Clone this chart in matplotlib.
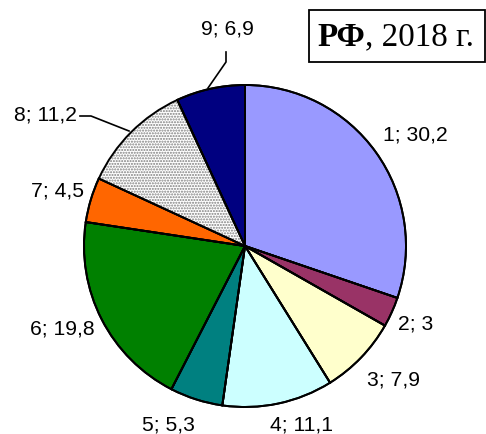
import matplotlib

matplotlib.use("Agg")
import matplotlib.pyplot as plt
from matplotlib.patches import Rectangle

# data
categories = ["1", "2", "3", "4", "5", "6", "7", "8", "9"]
values = [30.2, 3, 7.9, 11.1, 5.3, 19.8, 4.5, 11.2, 6.9]
value_labels = ["30,2", "3", "7,9", "11,1", "5,3", "19,8", "4,5", "11,2", "6,9"]
colors = ["#9999FF", "#993366", "#FFFFCC", "#CCFFFF", "#008080",
          "#008000", "#FF6600", "#FFFFFF", "#000080"]

# layout (pixel coords, y from top)
W, H = 486, 434
CX, CY, R = 245, 246, 161
label_pos = [(415, 135), (416, 324), (393, 380), (301, 425), (168, 425),
             (62, 329), (57, 191), (45, 115), (227, 29)]

fig = plt.figure(figsize=(W / 100, H / 100), dpi=100)
ax = fig.add_axes([0, 0, 1, 1])


def draw_pie(face):
    return ax.pie(
        values,
        colors=face,
        startangle=90,
        counterclock=False,
        center=(CX, H - CY),
        radius=R,
        wedgeprops={"edgecolor": "black", "linewidth": 1.4},
    )[0]


wedges = draw_pie(colors)
# dotted fill for slice 8
w8 = wedges[7]
w8.set_hatch("......")
w8.set_edgecolor("#7f7f7f")
w8.set_linewidth(0)
draw_pie(["none"] * len(values))

ax.set_xlim(0, W)
ax.set_ylim(0, H)
ax.set_aspect("equal")
ax.axis("off")

font = {"family": "Liberation Sans", "size": 15.2}
for cat, lab, (x, y) in zip(categories, value_labels, label_pos):
    ax.text(x, H - y, f"{cat}; {lab}", ha="center", va="center", **font)

# leader lines
ax.plot([80, 91, 129], [H - 116, H - 116, H - 131], color="black", lw=1.2)
ax.plot([226, 226, 208], [H - 52, H - 62, H - 88], color="black", lw=1.2)

# title box
ax.add_patch(Rectangle((309, H - 62), 176, 52, fill=False, edgecolor="black", lw=1.3))
t1 = ax.text(317, H - 37, "РФ", family="Liberation Serif", weight="bold",
             size=23.8, ha="left", va="center")
fig.canvas.draw()
bb = t1.get_window_extent(fig.canvas.get_renderer())
ax.text(bb.x1, H - 37, ", 2018 г.", family="Liberation Serif",
        size=23.8, ha="left", va="center")

fig.savefig("out.png", dpi=100)
